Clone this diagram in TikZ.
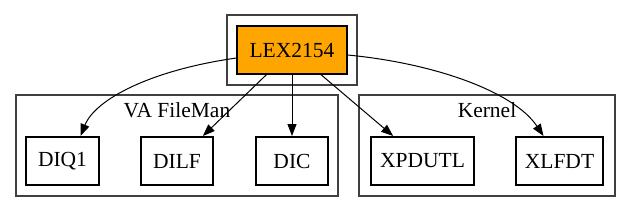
\documentclass[tikz,border=0pt]{standalone}
\usepackage{fontspec}
\setmainfont{Liberation Serif}
\usetikzlibrary{arrows.meta}
\definecolor{gvorange}{HTML}{FFA500}
\tikzset{
  every picture/.style={x=1pt,y=-1pt},
  cluster/.style={draw=black!75,line width=1.2pt},
  modbox/.style={draw=black,line width=2pt,minimum height=48pt,inner sep=0pt,font=\fontsize{21.5}{25}\selectfont},
  mainbox/.style={draw=black,line width=1.1pt,fill=gvorange,minimum width=110pt,minimum height=48pt,inner sep=0pt,font=\fontsize{21.5}{25}\selectfont},
  clabel/.style={font=\fontsize{21.5}{25}\selectfont,inner sep=0pt},
  dep/.style={draw=black,line width=1pt,-{Triangle[length=12pt,width=9pt]}}
}
\begin{document}
\begin{tikzpicture}
\useasboundingbox (0,0) rectangle (631,212);
% clusters
\draw[cluster] (227,15) rectangle (357,85);
\draw[cluster] (16,95) rectangle (338,196);
\draw[cluster] (359,95) rectangle (615,196);
\node[clabel] (lfm) at (177,110) {VA FileMan};
\node[clabel] (lkn) at (487,110) {Kernel};
% nodes
\node[mainbox] (lex) at (292,50) {LEX2154};
\node[modbox,minimum width=73pt] (diq1) at (62.5,161) {DIQ1};
\node[modbox,minimum width=72pt] (dilf) at (177,161) {DILF};
\node[modbox,minimum width=72pt] (dic) at (292,161) {DIC};
\node[modbox,minimum width=103pt] (xpdutl) at (422.5,161) {XPDUTL};
\node[modbox,minimum width=87pt] (xlfdt) at (559.5,161) {XLFDT};
% edges
\draw[dep] ([yshift=-8pt]lex.west) .. controls +(-85,12) and +(15,-37) .. ([xshift=18pt]diq1.north);
\draw[dep] (lex) -- (dilf);
\draw[dep] (lex) -- (dic);
\draw[dep] (lex) -- (xpdutl);
\draw[dep] ([yshift=-5pt]lex.east) .. controls +(85,8) and +(-30,-45) .. ([xshift=-16pt]xlfdt.north);
\end{tikzpicture}
\end{document}
